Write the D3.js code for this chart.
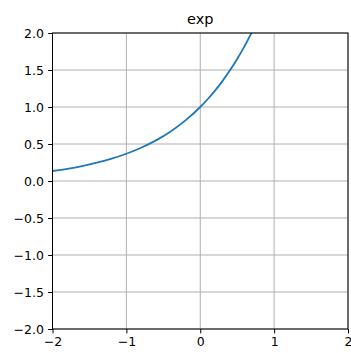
<!DOCTYPE html>
<html>
<head>
<meta charset="utf-8">
<script src="https://cdn.jsdelivr.net/npm/d3@7"></script>
<style>
body { margin: 0; background: #fff; }
text { font-family: "DejaVu Sans", sans-serif; }
</style>
</head>
<body>
<svg id="svg"></svg>
<script>
var width = 351, height = 353;
var margin = {top: 33, bottom: 24, right: 3, left: 52.5};

var title = "exp";
var xTicks = [-2, -1, 0, 1, 2];
var yTicks = [-2.0, -1.5, -1.0, -0.5, 0.0, 0.5, 1.0, 1.5, 2.0];
// points
var xs = [-2.0, -1.8, -1.6, -1.4, -1.2, -1.0, -0.8, -0.6, -0.4, -0.2, 0.0, 0.1, 0.2, 0.3, 0.4, 0.5, 0.6, 0.7];
var ys = [0.135, 0.165, 0.202, 0.247, 0.301, 0.368, 0.449, 0.549, 0.670, 0.819, 1.0, 1.105, 1.221, 1.350, 1.492, 1.649, 1.822, 2.014];

var svg = d3.select("#svg")
	.attr("width", width)
	.attr("height", height);

var x = d3.scaleLinear()
	.domain([-2, 2])
	.range([margin.left, width - margin.right]);

var y = d3.scaleLinear()
	.domain([-2, 2])
	.range([height - margin.bottom, margin.top]);

var minus = function(v) { return String(v).replace("-", "\u2212"); };

// grid
svg.append("g")
	.selectAll("line")
	.data(xTicks)
	.enter().append("line")
	.attr("x1", function(d) { return x(d); })
	.attr("x2", function(d) { return x(d); })
	.attr("y1", y(-2))
	.attr("y2", y(2))
	.attr("stroke", "#b0b0b0")
	.attr("stroke-width", 1);

svg.append("g")
	.selectAll("line")
	.data(yTicks)
	.enter().append("line")
	.attr("x1", x(-2))
	.attr("x2", x(2))
	.attr("y1", function(d) { return y(d); })
	.attr("y2", function(d) { return y(d); })
	.attr("stroke", "#b0b0b0")
	.attr("stroke-width", 1);

svg.append("clipPath")
	.attr("id", "clip")
	.append("rect")
	.attr("x", x(-2))
	.attr("y", y(2))
	.attr("width", x(2) - x(-2))
	.attr("height", y(-2) - y(2));

var line = d3.line()
	.x(function(d, i) { return x(xs[i]); })
	.y(function(d, i) { return y(ys[i]); })
	.curve(d3.curveMonotoneX);

svg.append("path")
	.datum(xs)
	.attr("clip-path", "url(#clip)")
	.attr("fill", "none")
	.attr("stroke", "#1f77b4")
	.attr("stroke-width", 1.8)
	.attr("d", line);

var xAxis = d3.axisBottom(x)
	.tickValues(xTicks)
	.tickSize(4.4)
	.tickPadding(4.2)
	.tickFormat(function(d) { return minus(d); });

var yAxis = d3.axisLeft(y)
	.tickValues(yTicks)
	.tickSize(4.4)
	.tickPadding(4.2)
	.tickFormat(function(d) { return minus(d.toFixed(1)); });

var gx = svg.append("g")
	.attr("transform", "translate(0," + y(-2) + ")")
	.call(xAxis);

var gy = svg.append("g")
	.attr("transform", "translate(" + x(-2) + ",0)")
	.call(yAxis);

[gx, gy].forEach(function(g) {
	g.select(".domain").remove();
	g.selectAll("line").attr("stroke", "#000").attr("stroke-width", 1);
	g.selectAll("text")
		.attr("fill", "#000")
		.style("font-family", "DejaVu Sans")
		.style("font-size", "12.5px");
});

// frame
svg.append("rect")
	.attr("x", x(-2))
	.attr("y", y(2))
	.attr("width", x(2) - x(-2))
	.attr("height", y(-2) - y(2))
	.attr("fill", "none")
	.attr("stroke", "#000")
	.attr("stroke-width", 1);

svg.append("text")
	.attr("x", (x(-2) + x(2)) / 2)
	.attr("y", y(2) - 9)
	.attr("text-anchor", "middle")
	.style("font-size", "14.5px")
	.text(title);
</script>
</body>
</html>
